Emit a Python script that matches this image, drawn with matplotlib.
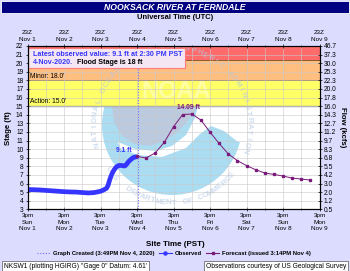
import numpy as np
import matplotlib
matplotlib.use("Agg")
import matplotlib.pyplot as plt
from matplotlib.patches import Rectangle, Circle, Polygon
from matplotlib.lines import Line2D

plt.rcParams['font.family'] = ['Liberation Sans', 'DejaVu Sans']

# ---- data (hours after 3pm PST Nov 1) ----
day_names = ['Sun', 'Mon', 'Tue', 'Wed', 'Thu', 'Fri', 'Sat', 'Sun', 'Mon']
day_dates = ['Nov 1', 'Nov 2', 'Nov 3', 'Nov 4', 'Nov 5', 'Nov 6', 'Nov 7', 'Nov 8', 'Nov 9']

obs_hours = [0, 4, 8, 12, 16, 20, 24, 28, 32, 36, 40, 44, 48, 50, 52, 53, 54, 55,
             56, 57, 58, 59, 60, 61, 62, 63, 64, 65, 66, 67, 68, 69, 70, 71.5]
obs_stage = [5.3, 5.28, 5.25, 5.2, 5.15, 5.1, 5.05, 5.02, 5.0, 4.95, 4.9, 4.95, 5.1,
             5.25, 5.45, 5.8, 6.4, 6.9, 7.3, 7.6, 7.85, 8.0, 8.1, 8.1, 8.1, 8.05,
             8.05, 8.2, 8.45, 8.65, 8.8, 8.95, 9.05, 9.1]

fc_hours = [72, 78, 84, 90, 96, 102, 108, 114, 120, 126, 132, 138, 144, 150,
            156, 162, 168, 174, 180, 186]
fc_stage = [9.15, 8.98, 9.56, 10.81, 12.61, 14.02, 14.09, 13.39, 11.98, 10.66,
            9.45, 8.66, 8.08, 7.61, 7.22, 7.06, 6.87, 6.63, 6.52, 6.40]

stage_ticks = [3, 4, 5, 6, 7, 8, 9, 10, 11, 12, 13, 14, 15, 16, 17, 18, 19, 20, 21, 22]
flow_labels = ['0.5', '1.2', '2.0', '3.0', '4.2', '5.5', '6.8', '8.3', '9.7', '11.2',
               '12.7', '14.3', '16.0', '17.8', '20.0', '22.3', '25.3', '30.0', '37.3', '46.7']

action_stage = 15
minor_stage = 18
moderate_stage = 20.4
created_hour = 72.8

W, H = 350, 271
fig = plt.figure(figsize=(W / 100, H / 100), dpi=100, facecolor='#dcdcff')
tr = fig.dpi_scale_trans


def px(x, y):
    # pixel coords (y down) -> inches
    return (x / 100.0, (H - y) / 100.0)


ax = fig.add_axes([27.5 / W, (H - 209.3) / H, 292 / W, 163.3 / H])
ax.set_facecolor('white')
ax.set_xlim(0, 192)
ax.set_ylim(3, 22)

# flood bands
ax.axhspan(moderate_stage, 22, color='#ff6b6b', zorder=1.2, lw=0)
ax.axhspan(minor_stage, moderate_stage, color='#ffbf80', zorder=1.2, lw=0)
ax.axhspan(action_stage, minor_stage, color='#ffff66', zorder=1.2, lw=0)
ax.axhline(moderate_stage, color='#8b5a2b', lw=0.7, zorder=1.3)
ax.axhline(minor_stage, color='#8b5a2b', lw=0.7, zorder=1.3)
ax.axhline(action_stage, color='#999999', lw=1.0, zorder=1.3)

# NOAA watermark
cx, cy, r = 172, 125, 70
logo = [Circle(px(cx, cy), r / 100.0, transform=tr, facecolor='#aadcf2', lw=0, zorder=1)]
cap = [px(112, 60), px(112, 106), px(114, 122), px(122, 136), px(135, 144), px(150, 146),
       px(165, 141), px(180, 130), px(192, 116), px(198, 106), px(198, 60)]
logo.append(Polygon(cap, closed=True, transform=tr, facecolor='#bccae0', lw=0, zorder=1.05))
wing = [px(118, 142), px(135, 149), px(155, 151), px(172, 146), px(186, 135), px(195, 118),
        px(198, 106), px(250, 106), px(250, 142), px(238, 142), px(224, 131), px(211, 126),
        px(200, 134), px(186, 148), px(162, 157), px(138, 155), px(120, 148)]
logo.append(Polygon(wing, closed=True, transform=tr, facecolor='white', lw=0, zorder=1.1))
for p in logo:
    ax.add_patch(p)
    p.set_clip_path(ax.patch)


def arc_text(s, rad, a0, a1, size, top):
    angs = np.linspace(a0, a1, len(s))
    for ch, a in zip(s, angs):
        ar = np.radians(a)
        x = cx + rad * np.cos(ar)
        y = cy - rad * np.sin(ar)
        rot = a - 90 if top else a + 90
        ax.text(*px(x, y), ch, transform=tr, rotation=rot, ha='center', va='center',
                fontsize=size, fontweight='bold', color='#b0c6e6', alpha=0.6,
                zorder=1.4, clip_on=True)


arc_text('NATIONAL OCEANIC AND ATMOSPHERIC ADMINISTRATION', 77, 195, -19, 5.6, True)
arc_text('U.S. DEPARTMENT OF COMMERCE', 78, 215, 320, 5.6, False)
ax.text(*px(176, 92), 'NOAA', transform=tr, ha='center', va='center', fontsize=17,
        fontweight='bold', color='white', alpha=0.4, zorder=1.4)

# grid
for h in range(0, 193, 12):
    ax.axvline(h, color='#c8c8c8', lw=0.5, alpha=0.8, zorder=2)
for s in stage_ticks:
    ax.axhline(s, color='#c8c8c8', lw=0.5, alpha=0.8, zorder=2)

# graph created line
ax.axvline(created_hour, color='#7070ff', lw=0.8, ls=(0, (1, 1.5)), zorder=3)

# data
ax.plot(obs_hours, obs_stage, color='#3535ff', lw=3.4, solid_capstyle='round', zorder=5)
ax.plot(fc_hours, fc_stage, color='#7a1a7a', lw=0.7, marker='s', ms=1.7, zorder=6)

ax.text(71.5 - 3, 9.1 + 0.35, '9.1 ft', color='#3535ff', fontsize=4.8, fontweight='bold',
        ha='right', va='bottom', zorder=7)
ax.text(106, 14.09 + 0.3, '14.09 ft', color='#7a1a7a', fontsize=4.8, fontweight='bold',
        ha='center', va='bottom', zorder=7)

ax.text(1.5, minor_stage + 0.1, "Minor: 18.0'", fontsize=4.8, va='bottom', zorder=7)
ax.text(1.5, action_stage + 0.1, "Action: 15.0'", fontsize=4.8, va='bottom', zorder=7)

# latest observed box
ax.add_patch(Rectangle(px(28, 68), 1.57, 0.20, transform=tr, facecolor='#f4e6f2',
                       edgecolor='#ff7a7a', lw=0.8, zorder=8))
ax.text(*px(33, 54.5), 'Latest observed value: 9.1 ft at 2:30 PM PST', transform=tr,
        fontsize=5.1, fontweight='bold', color='#3535ff', va='center', zorder=9)
ax.text(*px(33, 63), '4-Nov-2020.', transform=tr, fontsize=5.1, fontweight='bold',
        color='#3535ff', va='center', zorder=9)
ax.text(*px(77, 63), 'Flood Stage is 18 ft', transform=tr, fontsize=5.1,
        fontweight='bold', color='black', va='center', zorder=9)

# axes / ticks
major_x = list(range(0, 193, 24))
ax.set_xticks(major_x)
ax.set_xticks(list(range(12, 193, 24)), minor=True)
ax.set_xticklabels(['3pm\n%s\n%s' % (d, n) for d, n in zip(day_names, day_dates)],
                   fontsize=4.6, linespacing=1.35)
ax.set_yticks(stage_ticks)
ax.set_yticklabels([str(s) for s in stage_ticks], fontsize=4.8)
ax.tick_params(axis='both', which='both', direction='inout', length=3, width=0.5, pad=1.5)
ax.tick_params(axis='x', which='minor', length=2)
for sp in ax.spines.values():
    sp.set_linewidth(0.6)
    sp.set_zorder(10)

ax2 = ax.twinx()
ax2.set_ylim(3, 22)
ax2.set_yticks(stage_ticks)
ax2.set_yticklabels(flow_labels, fontsize=4.8)
ax2.tick_params(axis='y', direction='inout', length=3, width=0.5, pad=1.5)

ax3 = ax.twiny()
ax3.set_xlim(0, 192)
ax3.set_xticks(major_x)
ax3.set_xticks(list(range(12, 193, 24)), minor=True)
ax3.set_xticklabels(['23Z\n%s' % n for n in day_dates], fontsize=4.6, linespacing=1.35)
ax3.tick_params(axis='x', which='both', direction='inout', length=3, width=0.5, pad=1.5)
ax3.tick_params(axis='x', which='minor', length=2)

ax.set_ylabel('Stage (ft)', fontsize=5.6, fontweight='bold', labelpad=3)
ax2.set_ylabel('Flow (kcfs)', fontsize=5.6, fontweight='bold', rotation=270, labelpad=7)

# title bar and headers
fig.patches.append(Rectangle(px(1, 13), 3.48, 0.125, transform=tr, facecolor='#000080',
                             edgecolor='white', lw=0.6))
fig.text(*px(175, 7), 'NOOKSACK RIVER AT FERNDALE', transform=tr, ha='center', va='center',
         color='white', fontsize=6.2, fontweight='bold', style='italic')
fig.text(*px(175, 17.5), 'Universal Time (UTC)', transform=tr, ha='center', va='center',
         fontsize=5.4, fontweight='bold')
fig.text(*px(175, 244), 'Site Time (PST)', transform=tr, ha='center', va='center',
         fontsize=5.8, fontweight='bold')

# legend
handles = [Line2D([], [], color='#7070ff', lw=0.8, ls=(0, (1, 1.5))),
           Line2D([], [], color='#3535ff', lw=0.8, marker='o', ms=2.2),
           Line2D([], [], color='#7a1a7a', lw=0.8, marker='s', ms=2.0)]
labels = ['Graph Created (3:49PM Nov 4, 2020)', 'Observed', 'Forecast (issued 3:14PM Nov 4)']
fig.legend(handles, labels, loc='center', bbox_to_anchor=px(174, 253.5),
           bbox_transform=tr, ncol=3, frameon=False, handlelength=2.2, handletextpad=0.5,
           columnspacing=0.8, prop={'size': 4.2, 'weight': 'bold'})

# footer boxes
fig.text(*px(4, 266.5), 'NKSW1 (plotting HGIRG) "Gage 0" Datum: 4.61\'', transform=tr,
         fontsize=4.8, va='center', ha='left',
         bbox=dict(boxstyle='square,pad=0.25', facecolor='white', edgecolor='#555555', lw=0.5))
fig.text(*px(346, 266.5), 'Observations courtesy of US Geological Survey', transform=tr,
         fontsize=4.8, va='center', ha='right',
         bbox=dict(boxstyle='square,pad=0.25', facecolor='white', edgecolor='#555555', lw=0.5))

fig.savefig('out.png', dpi=100, facecolor=fig.get_facecolor())
